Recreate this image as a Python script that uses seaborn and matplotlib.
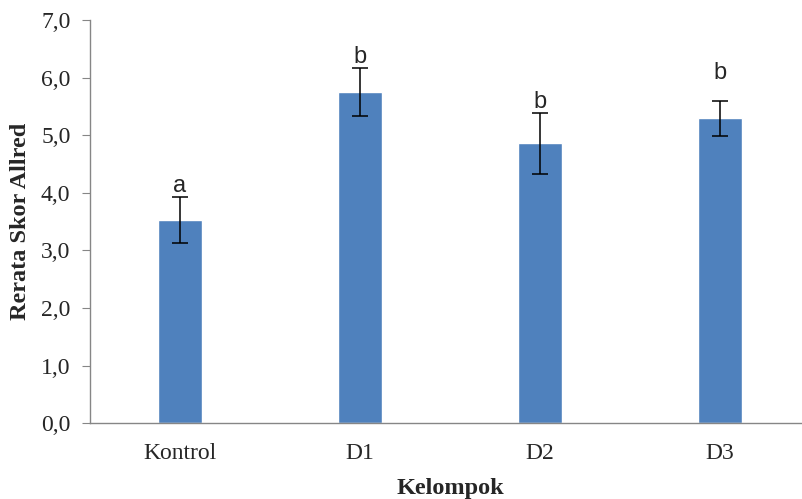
import matplotlib
matplotlib.use("Agg")
import matplotlib.pyplot as plt
import seaborn as sns
import pandas as pd
from matplotlib.ticker import FuncFormatter

# Data
kelompok = ["Kontrol", "D1", "D2", "D3"]
rerata = [3.53, 5.75, 4.86, 5.29]
sd = [0.40, 0.41, 0.53, 0.30]
notasi = ["a", "b", "b", "b"]
notasi_y = [3.93, 6.17, 5.39, 5.88]

df = pd.DataFrame({"Kelompok": kelompok, "Rerata": rerata})

sns.set_style("white")
plt.rcParams["font.family"] = ["Liberation Serif", "DejaVu Serif"]

fig = plt.figure(figsize=(8.03, 4.99), dpi=100)
ax = fig.add_axes([0.112, 0.152, 0.897, 0.808])

sns.barplot(data=df, x="Kelompok", y="Rerata", color="#4F81BD",
            saturation=1, width=0.245, errorbar=None, ax=ax)
ax.errorbar(range(len(kelompok)), rerata, yerr=sd, fmt="none",
            ecolor="black", elinewidth=1.1, capsize=5.5, capthick=1.1)

# notasi huruf
for i, (t, y) in enumerate(zip(notasi, notasi_y)):
    ax.text(i, y, t, ha="center", va="bottom", fontsize=17,
            family=["Liberation Sans", "DejaVu Sans"])

ax.set_ylim(0, 7)
ax.set_xlim(-0.5, 3.5)
ax.set_yticks([0, 1, 2, 3, 4, 5, 6, 7])
ax.yaxis.set_major_formatter(FuncFormatter(lambda v, p: f"{v:.1f}".replace(".", ",")))

for s in ["top", "right"]:
    ax.spines[s].set_visible(False)
for s in ["left", "bottom"]:
    ax.spines[s].set_color("#868686")
    ax.spines[s].set_linewidth(1.0)

ax.tick_params(axis="y", left=True, length=6, color="#868686", labelsize=17, pad=8)
ax.tick_params(axis="x", bottom=False, labelsize=17, pad=11)

ax.set_ylabel("Rerata Skor Allred", fontsize=17.5, fontweight="bold", labelpad=7)
ax.set_xlabel("Kelompok", fontsize=17.5, fontweight="bold", labelpad=10)

fig.savefig("out.png", dpi=100)
